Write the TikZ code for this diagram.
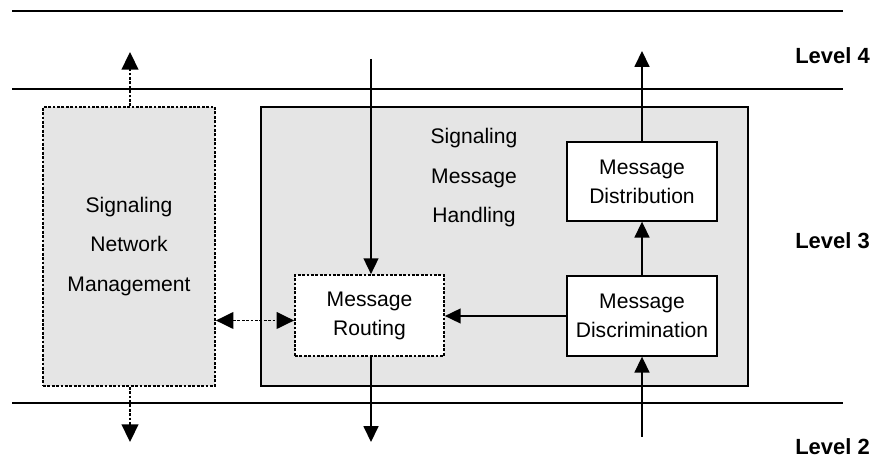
\documentclass[tikz,border=0pt]{standalone}
\usepackage{fontspec}
\setmainfont{Liberation Sans}
\usetikzlibrary{arrows.meta}

\begin{document}
\begin{tikzpicture}[x=0.02cm, y=-0.02cm, >={Triangle[length=9pt, width=8.5pt]},
    box/.style={draw, line width=0.8pt, align=center, inner sep=0pt,
      font=\fontsize{12}{16.5}\selectfont},
    dotbox/.style={box, line width=1pt, dash pattern=on 1.6pt off 0.9pt},
    flow/.style={->, line width=0.8pt},
    ctrl/.style={flow, line width=1pt, dash pattern=on 1.6pt off 0.9pt,
      >={Triangle[length=10pt, width=9.5pt]}},
    layer/.style={line width=0.8pt},
    level/.style={anchor=east, font=\bfseries\fontsize{12.5}{14}\selectfont}]
  \useasboundingbox (0,0) rectangle (879,472);
  %--- Level boundaries
  \draw[layer] (12,11) -- (843,11);
  \draw[layer] (12,89) -- (843,89);
  \draw[layer] (12,403) -- (843,403);
  \node[level] (l4) at (876,56) {Level 4};
  \node[level] (l3) at (876,241) {Level 3};
  \node[level] (l2) at (876,447) {Level 2};
  %--- Level 3 blocks
  \node[dotbox, fill=gray!20, minimum width=3.44cm, minimum height=5.58cm,
    font=\fontsize{12}{22.5}\selectfont] (snm) at (129,246.5)
    {Signaling\\Network\\Management};
  \node[box, fill=gray!20, minimum width=9.74cm, minimum height=5.58cm] (smh) at (504.5,246.5) {};
  \node[align=center, font=\fontsize{12}{22.5}\selectfont] (smhlbl) at (474,178)
    {Signaling\\Message\\Handling};
  \node[dotbox, fill=white, minimum width=2.98cm, minimum height=1.62cm] (route) at (369.5,315.5)
    {Message\\Routing};
  \node[box, fill=white, minimum width=3.0cm, minimum height=1.6cm] (discr) at (642,316)
    {Message\\Discrimination};
  \node[box, fill=white, minimum width=3.0cm, minimum height=1.58cm] (distr) at (642,181.5)
    {Message\\Distribution};
  %--- Free ends
  \coordinate (snmup) at (130,52);
  \coordinate (snmdown) at (130,442);
  \coordinate (routein) at (371,59);
  \coordinate (routeout) at (371,442);
  \coordinate (distrout) at (642,51);
  \coordinate (discrin) at (642,437);
  %--- Message flow
  \draw[flow] (routein) -- (route.north -| routein);
  \draw[flow] (route.south -| routeout) -- (routeout);
  \draw[flow] (discrin) -- (discr.south);
  \draw[flow] (discr.north) -- (distr.south);
  \draw[flow] (distr.north) -- (distrout);
  \draw[flow] (discr.west) -- (route.east |- discr.west);
  %--- Management links
  \draw[ctrl] (snm.north -| snmup) -- (snmup);
  \draw[ctrl] (snm.south -| snmdown) -- (snmdown);
  \draw[ctrl, <->] ([yshift=-0.1cm]snm.east |- route.west) -- ([yshift=-0.1cm]route.west);
\end{tikzpicture}
\end{document}
